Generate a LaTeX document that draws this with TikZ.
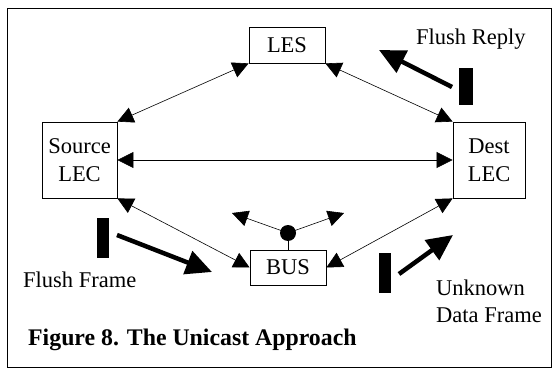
\documentclass[tikz,border=0pt]{standalone}
\usepackage{fontspec}
\setmainfont{Liberation Serif}
\usepackage{tikz}
\usetikzlibrary{arrows.meta}
\usetikzlibrary{positioning, calc}

\begin{document}
\begin{tikzpicture}[x=1pt, y=-1pt,
    box/.style={draw, thick, inner sep=0pt, font=\fontsize{22.5}{28}\selectfont, align=center},
    link/.style={{Triangle[length=16pt,width=16pt]}-{Triangle[length=16pt,width=16pt]}, line width=0.6pt},
    flow/.style={-{Triangle[length=26pt,width=24pt]}, line width=4.5pt},
    lbl/.style={font=\fontsize{22.5}{27}\selectfont, inner sep=0pt, align=left}]
                \useasboundingbox (0,0) rectangle (552,369);
                % outer frame
                \draw[thick] (7,8) rectangle (551,367);
                % boxes
                \node[box, minimum width=76pt, minimum height=36pt] (les) at (287,45) {LES};
                \node[box, minimum width=75pt, minimum height=76pt] (src) at (79.5,160) {Source\\LEC};
                \node[box, minimum width=72pt, minimum height=76pt] (dst) at (489,160) {Dest\\LEC};
                \node[box, minimum width=76pt, minimum height=35pt] (bus) at (288,267.5) {BUS};
                % connectors
                \draw[link] (src.north east) -- (les.south west);
                \draw[link] (les.south east) -- (dst.north west);
                \draw[link] (src.east) -- (dst.west);
                \draw[link] (src.south east) -- (bus.west);
                \draw[link] (dst.south west) -- (bus.east);
                % broadcast dot on the BUS
                \fill (288,233) circle(8);
                \coordinate (dot) at (288,233);
                \coordinate (bl) at (232,213);
                \coordinate (br) at (344,213);
                \draw[line width=0.6pt] (dot) -- (bus.north);
                \draw[-{Triangle[length=16pt,width=16pt]}, line width=0.6pt] (dot) -- (bl);
                \draw[-{Triangle[length=16pt,width=16pt]}, line width=0.6pt] (dot) -- (br);
                % frames in flight
                \fill (459,68) rectangle (473,105);
                \fill (97,218) rectangle (109,258);
                \fill (379,253) rectangle (391,293);
                \coordinate (r0) at (452,87);
                \coordinate (r1) at (379,50);
                \coordinate (f0) at (117,235);
                \coordinate (f1) at (212,272);
                \coordinate (u0) at (399,274);
                \coordinate (u1) at (453,235);
                \draw[flow] (r0) -- (r1);
                \draw[flow] (f0) -- (f1);
                \draw[flow] (u0) -- (u1);
                % labels
                \node[lbl, anchor=base west] (reply) at (416,45) {Flush Reply};
                \node[lbl, anchor=base west] (frame) at (23,287) {Flush Frame};
                \node[lbl, anchor=base west] (unknown) at (436,322) {Unknown\\Data Frame};
                \node[lbl, anchor=base west, font=\fontsize{23.8}{27}\selectfont\bfseries] (caption) at (28,345) {Figure 8. The Unicast Approach};
            \end{tikzpicture}
\end{document}
